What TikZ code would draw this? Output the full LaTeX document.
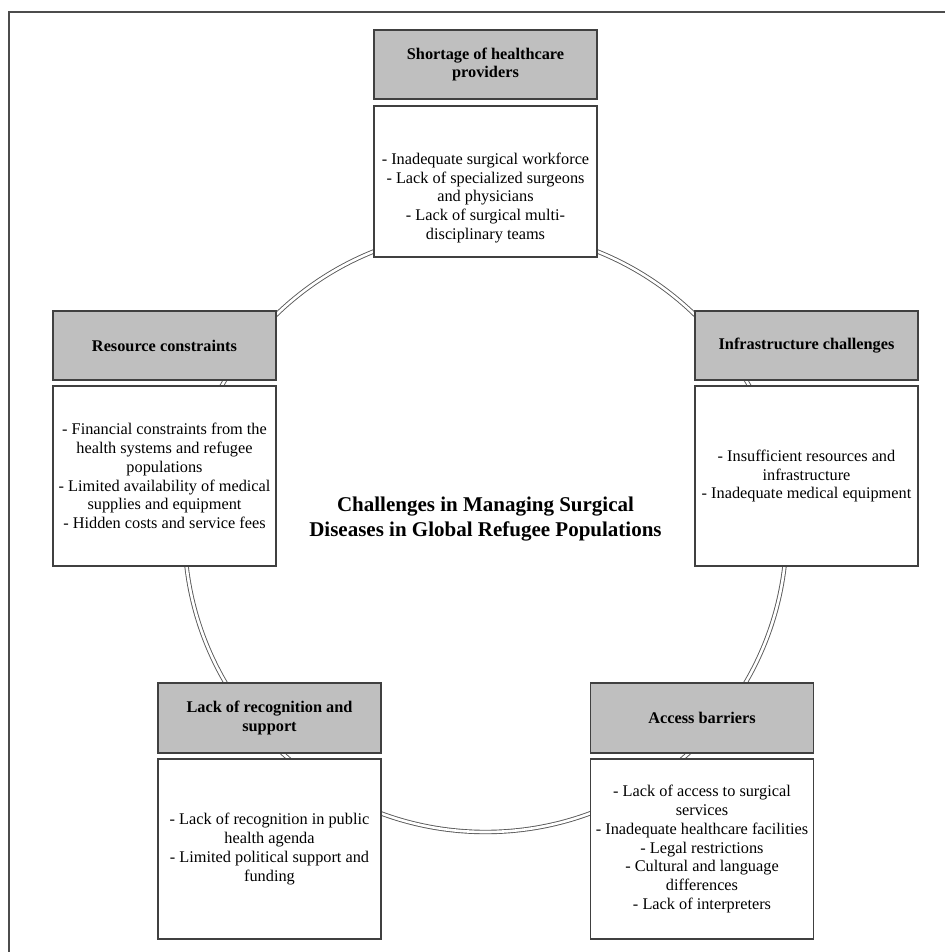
\documentclass[tikz,border=0pt]{standalone}
\usepackage{fontspec}
\setmainfont{Liberation Serif}
\begin{document}
\begin{tikzpicture}[x=1pt,y=-1pt,
  hdr/.style={draw=black!75, line width=1.3pt, fill=black!25, inner sep=0pt,
    minimum width=223pt, align=center,
    font=\bfseries\fontsize{16.3}{18.2}\selectfont},
  wbox/.style={draw=black!75, line width=1.3pt, fill=white, inner sep=0pt,
    minimum width=223pt, align=center,
    font=\fontsize{16.3}{18.7}\selectfont},
  btext/.style={align=center, inner sep=0pt, font=\fontsize{16.3}{18.7}\selectfont},
  ring/.style={draw=black!65, line width=0.9pt, double=white, double distance=2.6pt},
  frame/.style={draw=black!70, line width=1.6pt}
]
\useasboundingbox (0,0) rectangle (945,952);

% outer frame (top and left edges only)
\coordinate (fbl) at (9,952);
\coordinate (ftl) at (9,12);
\coordinate (ftr) at (945,12);
\draw[frame] (fbl) -- (ftl) -- (ftr);

% ring behind all boxes
\coordinate (c) at (485.5,531);
\draw[ring] (c) circle[radius=301];

% top: shortage
\node[hdr, minimum height=69pt] (h1) at (485.5,64.5) {Shortage of healthcare\\providers};
\node[wbox, minimum height=151pt] (b1) at (485.5,181.5) {};
\node[btext] (t1) at (485.5,198) {- Inadequate surgical workforce\\- Lack of specialized surgeons\\and physicians\\- Lack of surgical multi-\\disciplinary teams};

% left: resource constraints
\node[hdr, minimum height=69pt] (h2) at (164.5,345.5) {Resource constraints};
\node[wbox, minimum height=180pt] (b2) at (164.5,476) {- Financial constraints from the\\health systems and refugee\\populations\\- Limited availability of medical\\supplies and equipment\\- Hidden costs and service fees};

% right: infrastructure
\node[hdr, minimum height=69pt] (h3) at (806.5,345.5) {Infrastructure challenges};
\node[wbox, minimum height=180pt] (b3) at (806.5,476) {- Insufficient resources and\\infrastructure\\- Inadequate medical equipment};

% bottom left: recognition
\node[hdr, minimum height=70pt] (h4) at (269.5,718) {Lack of recognition and\\support};
\node[wbox, minimum height=180pt] (b4) at (269.5,849) {- Lack of recognition in public\\health agenda\\- Limited political support and\\funding};

% bottom right: access barriers
\node[hdr, minimum height=70pt] (h5) at (702,718) {Access barriers};
\node[wbox, minimum height=180pt] (b5) at (702,849) {- Lack of access to surgical\\services\\- Inadequate healthcare facilities\\- Legal restrictions\\- Cultural and language\\differences\\- Lack of interpreters};

% centre title
\node[align=center, inner sep=0pt, font=\bfseries\fontsize{21}{25}\selectfont] (title) at (485.5,519) {Challenges in Managing Surgical\\Diseases in Global Refugee Populations};
\end{tikzpicture}
\end{document}
